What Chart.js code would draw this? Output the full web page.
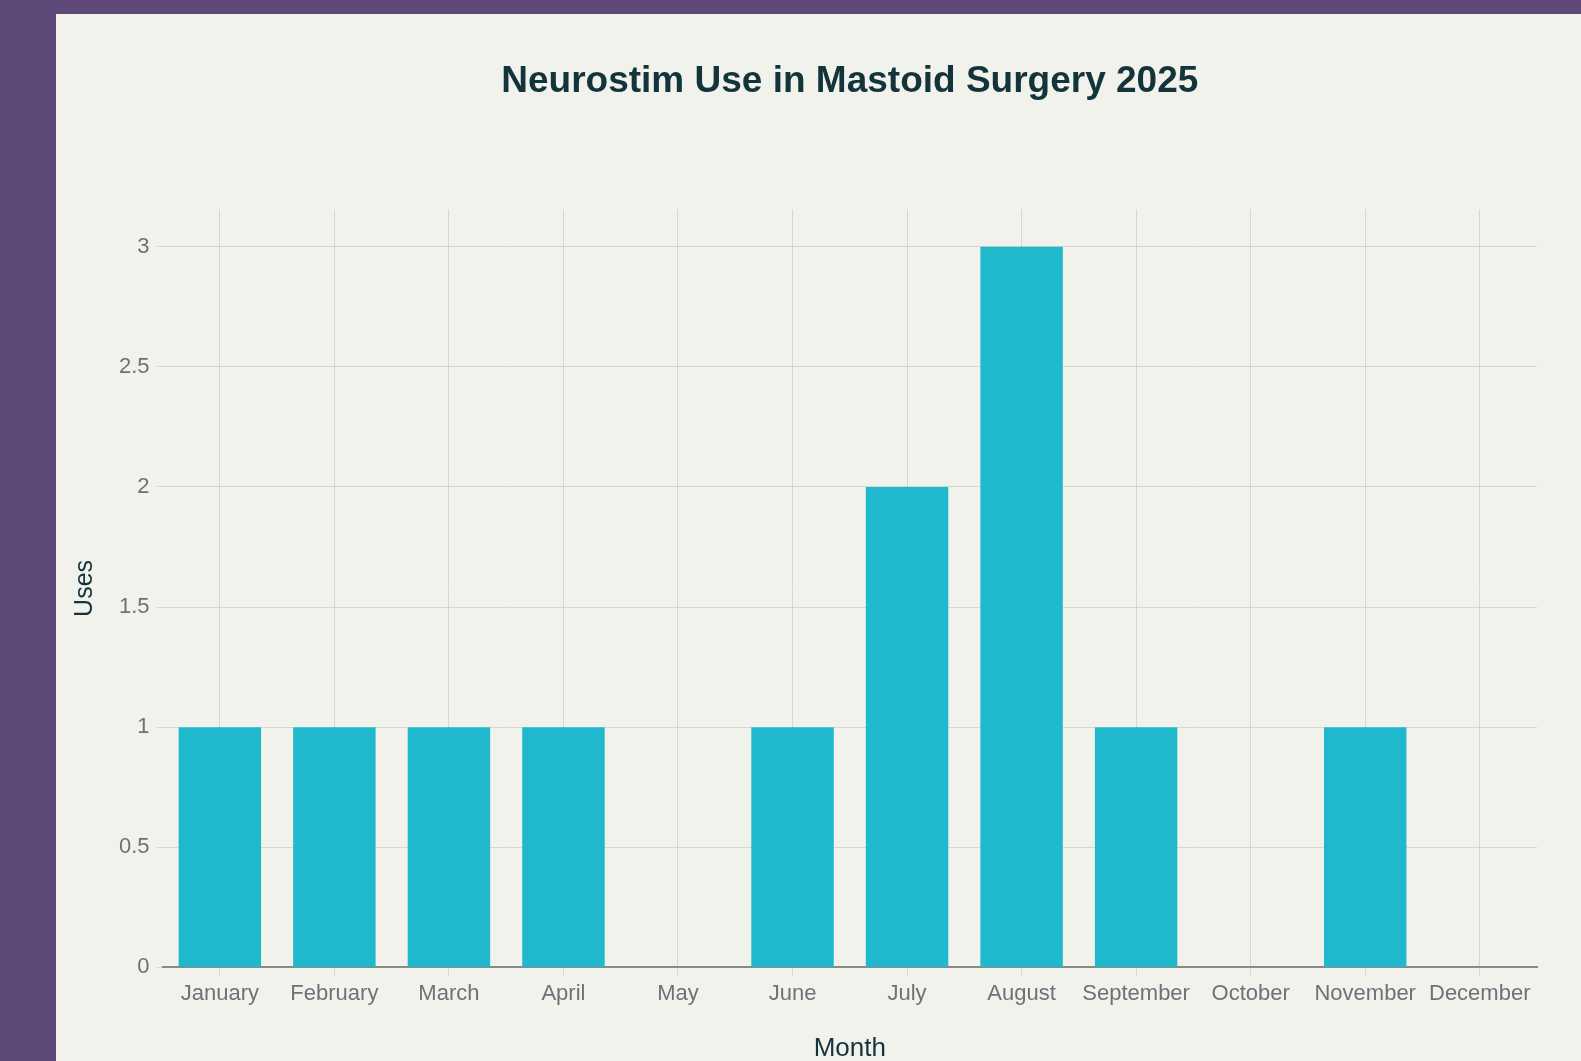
<!DOCTYPE html>
<html>
<head>
<meta charset="utf-8">
<script src="https://cdn.jsdelivr.net/npm/chart.js@4/dist/chart.umd.min.js"></script>
<style>
  html, body { margin: 0; padding: 0; background: #5e4979; width: 1581px; height: 1061px; overflow: hidden; }
  #card { position: absolute; left: 56px; top: 14px; width: 1525px; height: 1050px; background: #f2f2ed; }
</style>
</head>
<body>
<div id="card"><canvas id="chart"></canvas></div>
<script>
const months = ["January", "February", "March", "April", "May", "June",
  "July", "August", "September", "October", "November", "December"];
const uses = [1, 1, 1, 1, 0, 1, 2, 3, 1, 0, 1, 0];
const yMax = 3.155;
const yStep = 0.5;

const font = "'Liberation Sans', Arial, sans-serif";
const grid = "rgba(110, 110, 100, 0.2)";

new Chart(document.getElementById("chart").getContext("2d"), {
  type: "bar",
  data: {
    labels: months,
    datasets: [{
      label: "Uses",
      data: uses,
      backgroundColor: "#20b8cd",
      borderWidth: 0
    }]
  },
  options: {
    responsive: true,
    maintainAspectRatio: false,
    animation: false,
    layout: { padding: { left: 1, right: 44, top: 0, bottom: 0 } },
    plugins: {
      legend: { display: false },
      tooltip: { enabled: false },
      title: {
        display: true,
        fullSize: false,
        text: "Neurostim Use in Mastoid Surgery 2025",
        color: "#13343b",
        font: { family: font, size: 37, weight: "bold" },
        padding: { top: 46, bottom: 105 }
      }
    },
    scales: {
      x: {
        grid: { offset: false, color: grid, tickLength: 8, tickColor: grid },
        border: { color: "#8a8a84", width: 2 },
        ticks: { color: "#6b7278", font: { family: font, size: 22 }, padding: 5, maxRotation: 0 },
        title: {
          display: true, text: "Month", color: "#13343b",
          font: { family: font, size: 26 }, padding: { top: 21, bottom: 0 }
        }
      },
      y: {
        min: 0,
        max: yMax,
        grid: { color: grid, tickLength: 6, tickColor: grid },
        border: { display: false },
        ticks: {
          stepSize: yStep, includeBounds: false, color: "#6b7278",
          font: { family: font, size: 22 }, padding: 7,
          callback: (v) => String(v)
        },
        title: {
          display: true, text: "Uses", color: "#13343b",
          font: { family: font, size: 25 }, padding: { top: 13, bottom: 12 }
        }
      }
    }
  }
});
</script>
</body>
</html>
